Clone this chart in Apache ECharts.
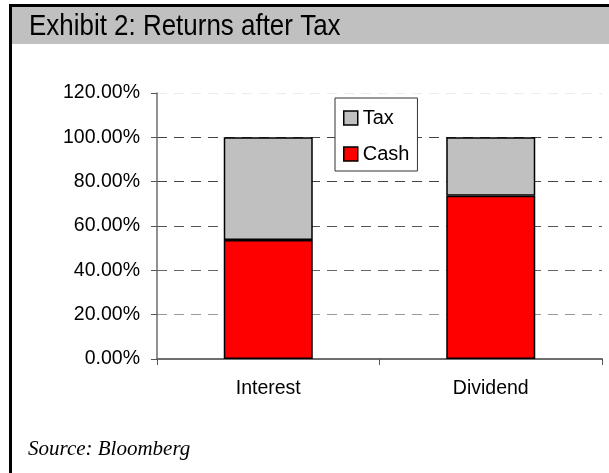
<!DOCTYPE html>
<html>
<head>
<meta charset="utf-8">
<script src="https://cdn.jsdelivr.net/npm/echarts@6/dist/echarts.min.js"></script>
<style>
  html, body { margin: 0; padding: 0; background: #ffffff; }
  #chart { width: 609px; height: 473px; }
</style>
</head>
<body>
<div id="chart"></div>
<script>
// Share of a pre-tax return kept as cash vs. paid as tax
const categories = ['Interest', 'Dividend'];
const cashValues = [53.7, 73.6];
const taxValues = [46.3, 26.4];
const tickLabels = ['0.00%', '20.00%', '40.00%', '60.00%', '80.00%', '100.00%', '120.00%'];

const chart = echarts.init(document.getElementById('chart'), null, { renderer: 'canvas' });

const labelFont = 'Liberation Sans, Arial, sans-serif';

chart.setOption({
  animation: false,
  backgroundColor: '#ffffff',
  graphic: [
    // header band
    { type: 'rect', shape: { x: 12, y: 7, width: 597, height: 37 }, style: { fill: '#c0c0c0' }, silent: true },
    // frame: top and left edges
    { type: 'rect', shape: { x: 10, y: 4, width: 599, height: 3 }, style: { fill: '#000000' }, silent: true },
    { type: 'rect', shape: { x: 9, y: 4, width: 3, height: 469 }, style: { fill: '#000000' }, silent: true },
    {
      // condensed heading: regular sans squeezed horizontally
      type: 'text', x: 29, y: 12, scaleX: 0.865, scaleY: 1,
      style: {
        text: 'Exhibit 2: Returns after Tax',
        font: '30px "Liberation Sans", Arial, sans-serif',
        fill: '#000000'
      },
      silent: true
    },
    {
      type: 'text', left: 28, top: 439,
      style: {
        text: 'Source: Bloomberg',
        font: 'italic 21px "Liberation Serif", "Times New Roman", serif',
        fill: '#000000'
      },
      silent: true
    }
  ],
  legend: {
    data: ['Tax', 'Cash'],
    orient: 'vertical',
    left: 335,
    top: 98,
    padding: [10, 8, 7, 8],
    itemGap: 16,
    itemWidth: 14,
    itemHeight: 14,
    itemTextGap: 6,
    backgroundColor: '#ffffff',
    borderColor: '#333333',
    borderWidth: 1,
    icon: 'rect',
    itemStyle: { borderColor: '#000000', borderWidth: 1.5 },
    textStyle: { fontFamily: labelFont, fontSize: 20, color: '#000000' }
  },
  grid: { left: 157, right: 7, top: 93, bottom: 114, containLabel: false },
  xAxis: {
    type: 'category',
    data: categories,
    boundaryGap: true,
    axisLine: { lineStyle: { color: '#6e6e6e', width: 2 } },
    axisTick: { show: true, alignWithLabel: false, length: 6, lineStyle: { color: '#555555', width: 1 } },
    axisLabel: { fontFamily: labelFont, fontSize: 19.5, color: '#000000', margin: 20 }
  },
  yAxis: {
    type: 'value',
    min: 0,
    max: 120,
    interval: 20,
    axisLine: { show: true, lineStyle: { color: '#6e6e6e', width: 1.5 } },
    axisTick: { show: true, length: 6, lineStyle: { color: '#555555' } },
    axisLabel: {
      fontFamily: labelFont, fontSize: 19.5, color: '#000000', margin: 17,
      formatter: function (v) { return tickLabels[Math.round(v / 20)]; }
    },
    splitLine: {
      show: true,
      lineStyle: {
        color: ['#555555', '#9a9a9a', '#666666', '#555555', '#444444', '#444444', '#ececec'],
        type: [10, 7],
        width: 1
      }
    }
  },
  series: [
    {
      name: 'Cash',
      type: 'bar',
      stack: 'total',
      barWidth: '40%',
      data: cashValues,
      itemStyle: { color: '#ff0000', borderColor: '#000000', borderWidth: 1.5 }
    },
    {
      name: 'Tax',
      type: 'bar',
      stack: 'total',
      barWidth: '40%',
      data: taxValues,
      itemStyle: { color: '#c0c0c0', borderColor: '#000000', borderWidth: 1.5 }
    }
  ]
});
</script>
</body>
</html>
